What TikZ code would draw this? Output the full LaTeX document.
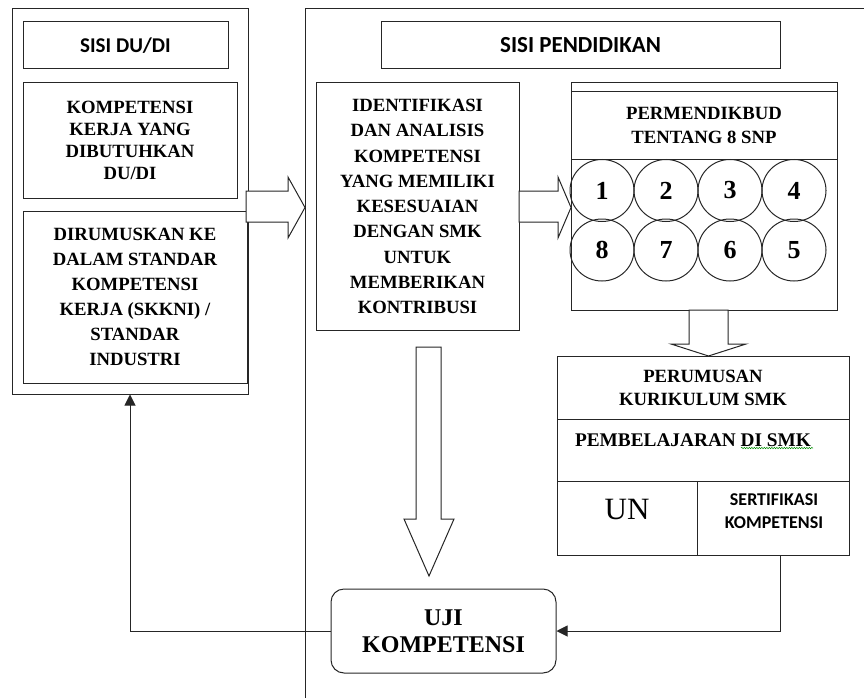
\documentclass[tikz,border=0pt]{standalone}
\usepackage{fontspec}
\setmainfont{Liberation Serif}
\newfontfamily\calfont{Carlito}
\usetikzlibrary{arrows.meta,decorations.pathmorphing,shapes.geometric}
\begin{document}
\begin{tikzpicture}[x=1pt,y=-1pt,
  ln/.style={draw=black!85, line width=1pt},
  box/.style={ln, rectangle, inner sep=0pt, align=center,
    font=\bfseries\fontsize{18.7}{25}\selectfont},
  txt/.style={inner sep=0pt, align=center, font=\bfseries\fontsize{18.7}{24}\selectfont},
  sans/.style={inner sep=0pt, align=center, font=\calfont\bfseries\fontsize{21}{25}\selectfont},
  circ/.style={ln, ellipse, minimum width=64pt, minimum height=62pt, inner sep=0pt,
    font=\bfseries\fontsize{26}{28}\selectfont},
  blockarrow/.style={ln, fill=white, line join=miter},
  conn/.style={ln, -{Triangle[length=11pt,width=11pt]}}
]
\useasboundingbox (0,0) rectangle (864,698);

% ---- left side: SISI DU/DI ----
\node[ln, rectangle, inner sep=0pt, minimum width=236pt, minimum height=385pt] (leftouter) at (130,201.5) {};
\node[ln, rectangle, sans, minimum width=205pt, minimum height=47pt] (dudi) at (125.5,45.5) {SISI DU/DI};
\node[box, minimum width=214pt, minimum height=115pt, font=\bfseries\fontsize{18.7}{22}\selectfont] (kerja) at (130,140.5)
  {KOMPETENSI\\KERJA YANG\\DIBUTUHKAN\\DU/DI};
\node[box, minimum width=224pt, minimum height=172pt] (rumus) at (135,297)
  {DIRUMUSKAN KE\\DALAM STANDAR\\KOMPETENSI\\KERJA (SKKNI) /\\STANDAR\\INDUSTRI};

% ---- right side: SISI PENDIDIKAN ----
\coordinate (rob) at (305,698);
\coordinate (rot) at (305,9);
\coordinate (ror) at (864,9);
\draw[ln] (rob) -- (rot) -- (ror);
\node[ln, rectangle, sans, font=\calfont\bfseries\fontsize{23}{25}\selectfont, minimum width=399pt, minimum height=47pt] (pend) at (580.5,45.5) {SISI PENDIDIKAN};
\node[box, minimum width=203pt, minimum height=247pt, font=\bfseries\fontsize{18.7}{25.25}\selectfont] (ident) at (417.5,206.5)
  {IDENTIFIKASI\\DAN ANALISIS\\KOMPETENSI\\YANG MEMILIKI\\KESESUAIAN\\DENGAN SMK\\UNTUK\\MEMBERIKAN\\KONTRIBUSI};

% PERMENDIKBUD box
\node[ln, rectangle, inner sep=0pt, minimum width=266pt, minimum height=227pt] (perm) at (704,196.5) {};
\draw[ln] (571,92) -- (837,92);
\draw[ln] (571,159) -- (837,159);
\node[txt] (permt) at (704,125.5) {PERMENDIKBUD\\TENTANG 8 SNP};
\node[circ] (c1) at (602,190.5) {1};
\node[circ] (c2) at (666,190.5) {2};
\node[circ] (c3) at (730,190.5) {3};
\node[circ] (c4) at (794,190.5) {4};
\node[circ] (c8) at (602,250) {8};
\node[circ] (c7) at (666,250) {7};
\node[circ] (c6) at (730,250) {6};
\node[circ] (c5) at (794,250) {5};

% PERUMUSAN box
\node[ln, rectangle, inner sep=0pt, minimum width=292pt, minimum height=199pt] (kur) at (703,455.5) {};
\draw[ln] (557,419) -- (849,419);
\draw[ln] (557,481) -- (849,481);
\draw[ln] (697,481) -- (697,555);
\node[txt, font=\bfseries\fontsize{18.7}{23}\selectfont] (perum) at (703,387.5) {PERUMUSAN\\KURIKULUM SMK};
\node[txt, font=\bfseries\fontsize{19.3}{24}\selectfont] (pemb) at (693,440) {PEMBELAJARAN DI SMK};
\draw[green!55!black, line width=0.5pt, decorate, decoration={snake, amplitude=0.7pt, segment length=2.5pt}] (741,448) -- (813,448);
\node[inner sep=0pt, font=\fontsize{31}{33}\selectfont] (un) at (627,509) {UN};
\node[sans, font=\calfont\bfseries\fontsize{18}{23}\selectfont] (sert) at (774,511.5) {SERTIFIKASI\\KOMPETENSI};

% UJI KOMPETENSI
\node[ln, rectangle, rounded corners=13pt, inner sep=0pt, minimum width=225pt, minimum height=84pt, align=center,
  font=\bfseries\fontsize{24}{27}\selectfont] (uji) at (443.5,631) {UJI\\KOMPETENSI};

% ---- block arrows ----
\draw[blockarrow] (246,191) -- (288,191) -- (288,177) -- (305,207.5) -- (288,238) -- (288,222) -- (246,222) -- cycle;
\draw[blockarrow] (519,191) -- (558,191) -- (558,177) -- (571,207.5) -- (558,238) -- (558,222) -- (519,222) -- cycle;
\draw[blockarrow] (689,310) -- (689,344) -- (671,344) -- (708.5,356) -- (746,344) -- (728,344) -- (728,310) -- cycle;
\draw[blockarrow] (416,347) -- (416,519) -- (404,519) -- (429,576) -- (454,519) -- (441,519) -- (441,347) -- cycle;

% ---- connectors ----
\coordinate (sertout) at (780,555);
\draw[conn] (sertout) |- (uji.east);
\draw[conn] (uji.west) -| (leftouter.south);
\end{tikzpicture}
\end{document}
